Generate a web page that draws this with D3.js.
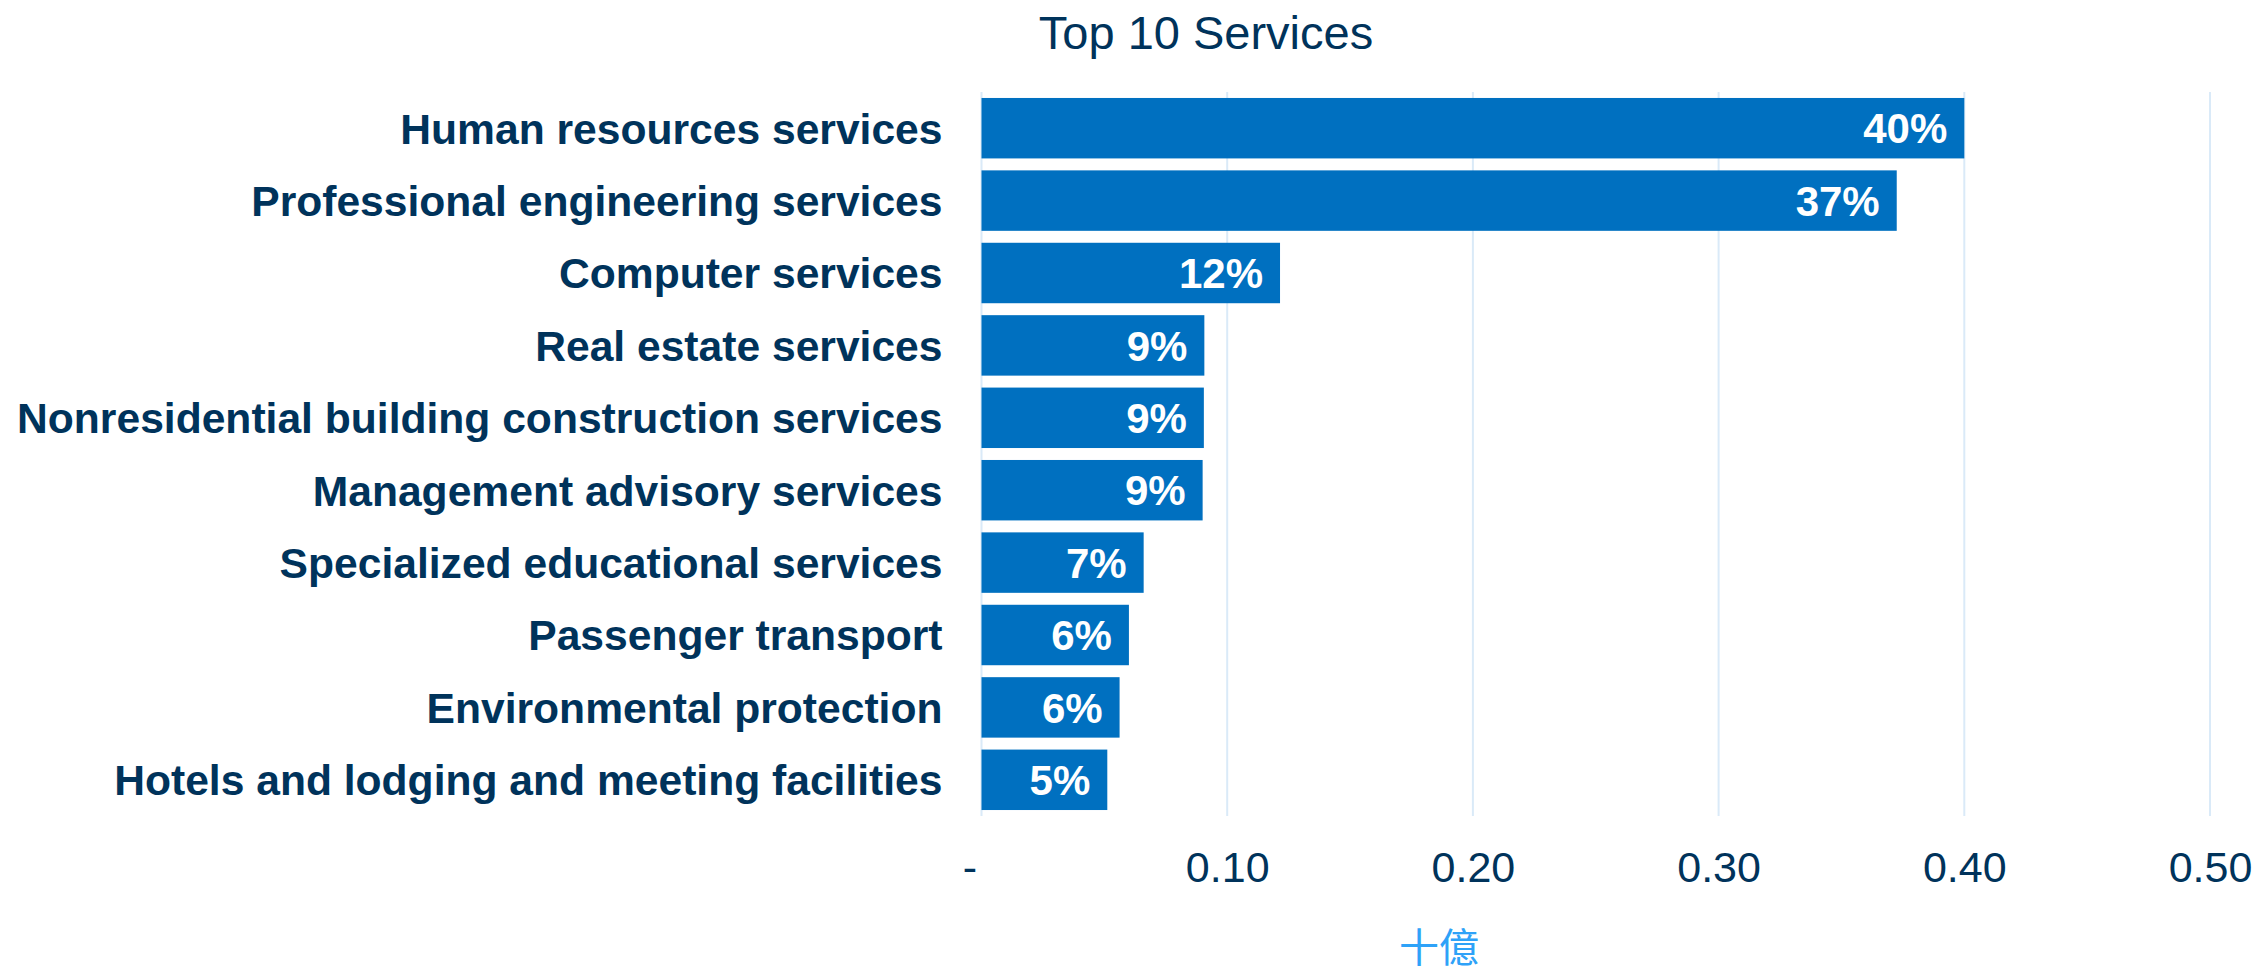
<!DOCTYPE html>
<html>
<head>
<meta charset="utf-8">
<script src="https://cdn.jsdelivr.net/npm/d3@7"></script>
<style>
  html, body { margin: 0; padding: 0; background: #ffffff; }
  svg { display: block; }
</style>
</head>
<body>
<svg id="chart" width="2253" height="975"></svg>
<script>
const categories = [
  "Human resources services",
  "Professional engineering services",
  "Computer services",
  "Real estate services",
  "Nonresidential building construction services",
  "Management advisory services",
  "Specialized educational services",
  "Passenger transport",
  "Environmental protection",
  "Hotels and lodging and meeting facilities"
];
const values = [0.400, 0.3725, 0.1215, 0.0907, 0.0905, 0.0900, 0.0660, 0.0600, 0.0562, 0.0512];
const valueLabels = ["40%", "37%", "12%", "9%", "9%", "9%", "7%", "6%", "6%", "5%"];
const tickValues = [0, 0.1, 0.2, 0.3, 0.4, 0.5];
const tickLabels = ["-", "0.10", "0.20", "0.30", "0.40", "0.50"];
const titleText = "Top 10 Services";
const axisTitle = "十億";

const W = 2253, H = 975;
const margin = { left: 981.5, right: 43, top: 92, bottom: 159 };
const innerW = W - margin.left - margin.right;
const innerH = H - margin.top - margin.bottom;

const navy = "#00335B";
const barColor = "#0070C0";
const gridColor = "#DAEAF8";
const font = "'Liberation Sans', Arial, Helvetica, sans-serif";

const svg = d3.select("#chart");

const x = d3.scaleLinear().domain([0, 0.5]).range([0, innerW]);
const y = d3.scaleBand().domain(categories).range([0, innerH]).paddingInner(0.165).paddingOuter(0.0825);

const g = svg.append("g").attr("transform", `translate(${margin.left},${margin.top})`);

// gridlines
g.append("g")
  .selectAll("line")
  .data(tickValues)
  .join("line")
  .attr("x1", d => x(d)).attr("x2", d => x(d))
  .attr("y1", 0).attr("y2", innerH)
  .attr("stroke", gridColor)
  .attr("stroke-width", 2);

// x axis labels via d3 axis
const xAxis = d3.axisBottom(x)
  .tickValues(tickValues)
  .tickFormat((d, i) => tickLabels[i])
  .tickSize(0)
  .tickPadding(0);

const xg = g.append("g")
  .attr("transform", `translate(0,${innerH})`)
  .call(xAxis);
xg.select(".domain").remove();
xg.selectAll("text")
  .attr("y", 66)
  .attr("dy", 0)
  .attr("fill", navy)
  .style("font-family", font)
  .style("font-size", "43px")
  .attr("dx", (d, i) => i === 0 ? -12 : 0);

// bars
g.append("g")
  .selectAll("rect")
  .data(values)
  .join("rect")
  .attr("x", 0)
  .attr("y", (d, i) => y(categories[i]))
  .attr("width", d => x(d))
  .attr("height", y.bandwidth())
  .attr("fill", barColor);

// value labels
g.append("g")
  .selectAll("text")
  .data(values)
  .join("text")
  .attr("x", d => x(d) - 17)
  .attr("y", (d, i) => y(categories[i]) + y.bandwidth() / 2)
  .attr("dy", "0.36em")
  .attr("text-anchor", "end")
  .attr("fill", "#ffffff")
  .style("font-family", font)
  .style("font-weight", "bold")
  .style("font-size", "42px")
  .text((d, i) => valueLabels[i]);

// y axis (category labels) via d3 axis
const yAxis = d3.axisLeft(y).tickSize(0).tickPadding(39);
const yg = g.append("g").call(yAxis);
yg.select(".domain").remove();
yg.selectAll("text")
  .attr("fill", navy)
  .attr("dy", "0.36em")
  .style("font-family", font)
  .style("font-weight", "bold")
  .style("font-size", "42.6px");

// title
svg.append("text")
  .attr("x", 1206)
  .attr("y", 49)
  .attr("text-anchor", "middle")
  .attr("fill", navy)
  .style("font-family", font)
  .style("font-size", "47px")
  .text(titleText);

// axis title
svg.append("text")
  .attr("x", 1439)
  .attr("y", 962)
  .attr("text-anchor", "middle")
  .attr("fill", "#2EA2F8")
  .style("font-family", "'Noto Sans CJK TC', 'Noto Sans CJK SC', sans-serif")
  .style("font-size", "40px")
  .text(axisTitle);
</script>
</body>
</html>
